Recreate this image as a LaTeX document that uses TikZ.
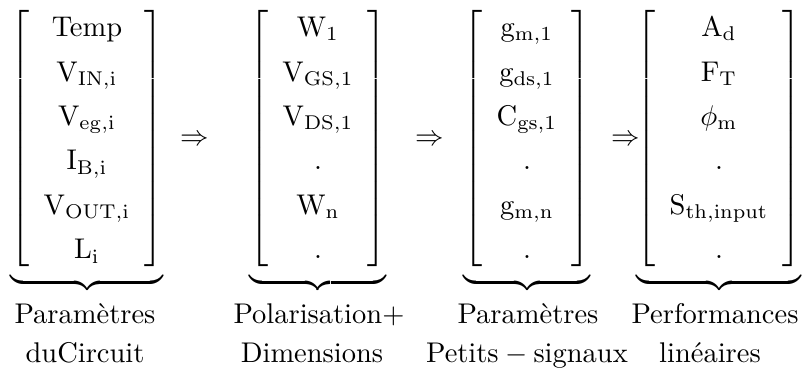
\documentclass[tikz,border=0pt]{standalone}
\usepackage{amsmath}
\renewcommand{\arraystretch}{1.3}
\newcommand{\MatA}{\left[\begin{array}{c}\mathrm{Temp}\\ \mathrm{V_{IN,i}}\\ \mathrm{V_{eg,i}}\\ \mathrm{I_{B,i}}\\ \mathrm{V_{OUT,i}}\\ \mathrm{L_i}\end{array}\right]}
\newcommand{\MatB}{\left[\begin{array}{c}\mathrm{W_1}\\ \mathrm{V_{GS,1}}\\ \mathrm{V_{DS,1}}\\ .\\ \mathrm{W_n}\\ .\end{array}\right]}
\newcommand{\MatC}{\left[\begin{array}{c}\mathrm{g_{m,1}}\\ \mathrm{g_{ds,1}}\\ \mathrm{C_{gs,1}}\\ .\\ \mathrm{g_{m,n}}\\ .\end{array}\right]}
\newcommand{\MatD}{\left[\begin{array}{c}\mathrm{A_d}\\ \mathrm{F_T}\\ \phi_{\mathrm{m}}\\ .\\ \mathrm{S_{th,input}}\\ .\end{array}\right]}
\tikzset{
  mat/.style={inner sep=0pt, anchor=base},
  implies/.style={inner sep=0pt, anchor=base},
  lab/.style={inner sep=0pt, anchor=base}
}
\begin{document}
\begin{tikzpicture}[x=0.351pt, y=-0.351pt]
\useasboundingbox (0,0) rectangle (805,376);
% matrices with underbraces
\node[mat] (m1) at (87,146) {$\underbrace{\MatA}$};
\node[mat] (m2) at (318,146) {$\underbrace{\MatB}$};
\node[mat] (m3) at (527,146) {$\underbrace{\MatC}$};
\node[mat] (m4) at (719,146) {$\underbrace{\MatD}$};
% implication arrows
\node[implies] (r1) at (195,146) {$\Rightarrow$};
\node[implies] (r2) at (430,146) {$\Rightarrow$};
\node[implies] (r3) at (626,146) {$\Rightarrow$};
% labels
\node[lab] (l1a) at (85,324) {Paramètres};
\node[lab] (l1b) at (85,363) {duCircuit};
\node[lab] (l2a) at (319,324) {Polarisation$+$};
\node[lab] (l2b) at (312,363) {Dimensions};
\node[lab] (l3a) at (528,324) {Paramètres};
\node[lab] (l3b) at (527,363) {Petits${}-{}$signaux};
\node[lab] (l4a) at (715,324) {Performances};
\node[lab] (l4b) at (710,363) {linéaires};
\end{tikzpicture}
\end{document}
